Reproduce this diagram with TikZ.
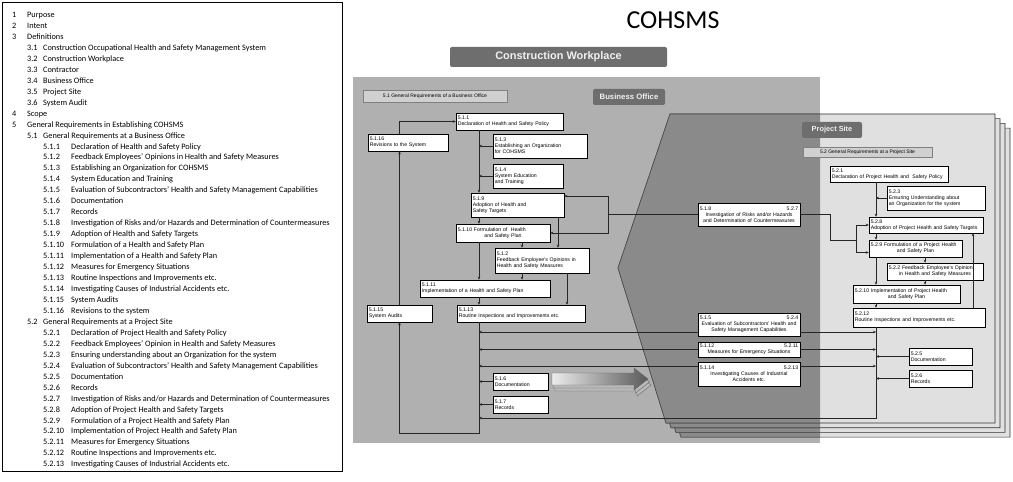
\documentclass[tikz,border=0pt]{standalone}
\usepackage{fontspec}
\setmainfont{Carlito}
\newfontfamily\diagfont{Liberation Sans}
\usetikzlibrary{arrows.meta,calc}
\definecolor{panelgray}{HTML}{B0B0B0}
\definecolor{overlapgray}{HTML}{8A8A8A}
\definecolor{pagegray}{HTML}{E0E0E0}
\definecolor{tabgray}{HTML}{6E6E6E}
\definecolor{labelgray}{HTML}{D0D0D0}
% table of contents lines, three levels
\newcommand{\tocA}[2]{\makebox[15bp][l]{#1}#2}
\newcommand{\tocB}[2]{\hspace*{15bp}\makebox[16bp][l]{#1}#2}
\newcommand{\tocC}[2]{\hspace*{31bp}\makebox[28bp][l]{#1}#2}

\begin{document}
\begin{tikzpicture}[x=1bp, y=-1bp,
   box/.style={draw=black, fill=white, line width=0.5bp, inner xsep=1.8bp,
               inner ysep=0.6bp, align=left,
               font=\diagfont\fontsize{5.2}{5.9}\selectfont},
   twin/.style={box, align=center},
   tab/.style={fill=tabgray, rounded corners=2bp, inner sep=0pt,
               text=white!88!gray, font=\diagfont\bfseries},
   flat/.style={fill=labelgray, draw=gray, line width=0.4bp, inner sep=0pt,
                font=\diagfont\fontsize{5}{5.6}\selectfont},
   conn/.style={line width=0.8bp, draw=black!85},
   >={Stealth[length=3bp,width=2.6bp]}]
  \fill[white] (0,0) rectangle (1013,482);

  % contents list
  \draw[line width=0.8bp] (2.5,2.5) rectangle (342,471.5);
  \node[anchor=north west, inner sep=0pt, align=left,
        font=\fontsize{8.3}{11}\selectfont] (toc) at (12,12) {%
    \tocA{1}{Purpose}\\
    \tocA{2}{Intent}\\
    \tocA{3}{Definitions}\\
    \tocB{3.1}{Construction Occupational Health and Safety Management System}\\
    \tocB{3.2}{Construction Workplace}\\
    \tocB{3.3}{Contractor}\\
    \tocB{3.4}{Business Office}\\
    \tocB{3.5}{Project Site}\\
    \tocB{3.6}{System Audit}\\
    \tocA{4}{Scope}\\
    \tocA{5}{General Requirements in Establishing COHSMS}\\
    \tocB{5.1}{General Requirements at a Business Office}\\
    \tocC{5.1.1}{Declaration of Health and Safety Policy}\\
    \tocC{5.1.2}{Feedback Employees' Opinions in Health and Safety Measures}\\
    \tocC{5.1.3}{Establishing an Organization for COHSMS}\\
    \tocC{5.1.4}{System Education and Training}\\
    \tocC{5.1.5}{Evaluation of Subcontractors' Health and Safety Management Capabilities}\\
    \tocC{5.1.6}{Documentation}\\
    \tocC{5.1.7}{Records}\\
    \tocC{5.1.8}{Investigation of Risks and/or Hazards and Determination of Countermeasures}\\
    \tocC{5.1.9}{Adoption of Health and Safety Targets}\\
    \tocC{5.1.10}{Formulation of a Health and Safety Plan}\\
    \tocC{5.1.11}{Implementation of a Health and Safety Plan}\\
    \tocC{5.1.12}{Measures for Emergency Situations}\\
    \tocC{5.1.13}{Routine Inspections and Improvements etc.}\\
    \tocC{5.1.14}{Investigating Causes of Industrial Accidents etc.}\\
    \tocC{5.1.15}{System Audits}\\
    \tocC{5.1.16}{Revisions to the system}\\
    \tocB{5.2}{General Requirements at a Project Site}\\
    \tocC{5.2.1}{Declaration of Project Health and Safety Policy}\\
    \tocC{5.2.2}{Feedback Employees' Opinion in Health and Safety Measures}\\
    \tocC{5.2.3}{Ensuring understanding about an Organization for the system}\\
    \tocC{5.2.4}{Evaluation of Subcontractors' Health and Safety Management Capabilities}\\
    \tocC{5.2.5}{Documentation}\\
    \tocC{5.2.6}{Records}\\
    \tocC{5.2.7}{Investigation of Risks and/or Hazards and Determination of Countermeasures}\\
    \tocC{5.2.8}{Adoption of Project Health and Safety Targets}\\
    \tocC{5.2.9}{Formulation of a Project Health and Safety Plan}\\
    \tocC{5.2.10}{Implementation of Project Health and Safety Plan}\\
    \tocC{5.2.11}{Measures for Emergency Situations}\\
    \tocC{5.2.12}{Routine Inspections and Improvements etc.}\\
    \tocC{5.2.13}{Investigating Causes of Industrial Accidents etc.}};

  \node[font=\fontsize{26}{26}\selectfont, inner sep=0pt] (title) at (673,20) {COHSMS};

  % business office panel and the stack of project site pages
  \fill[panelgray] (353,77) rectangle (820,443);
  \foreach \k in {3,2,1,0}{
    \begin{scope}[shift={(5*\k,4.7*\k)}]
      \filldraw[fill=pagegray, draw=black!80, line width=0.6bp]
        (670,114) -- (995,114) -- (995,423) -- (666,423) -- (618,268) -- cycle;
      \begin{scope}
        \clip (353-5*\k,77-4.7*\k) rectangle (820-5*\k,443-4.7*\k);
        \filldraw[fill=overlapgray, draw=black!70, line width=0.6bp]
          (670,114) -- (995,114) -- (995,423) -- (666,423) -- (618,268) -- cycle;
      \end{scope}
    \end{scope}
  }

  % grey arrow towards the project site
  \foreach \k in {2,1}{
    \filldraw[fill=gray!55, draw=black!60, line width=0.4bp, shift={(1.5*\k,3*\k)}]
      (552,373) -- (634,373) -- (634,368) -- (648,379) -- (634,390) -- (634,385) -- (552,385) -- cycle;
  }
  \shade[left color=white!85!gray, right color=black!65, draw=black!60, line width=0.4bp]
    (552,373) -- (634,373) -- (634,368) -- (648,379) -- (634,390) -- (634,385) -- (552,385) -- cycle;

  % headings
  \node[tab, minimum width=217bp, minimum height=20bp, font=\diagfont\bfseries\fontsize{11}{11}\selectfont] (cwtab) at (558.5,57) {Construction Workplace};
  \node[tab, minimum width=72bp, minimum height=16bp, font=\diagfont\bfseries\fontsize{7.8}{8}\selectfont] (botab) at (629,97) {Business Office};
  \node[flat, minimum width=144bp, minimum height=12bp] (bolabel) at (435,96) {5.1 General Requirements of a Business Office};
  \node[tab, minimum width=60bp, minimum height=16bp, font=\diagfont\bfseries\fontsize{7.4}{8}\selectfont] (pstab) at (832,130) {Project Site};
  \node[flat, minimum width=129bp, minimum height=10bp] (pslabel) at (867.5,152) {5.2 General Requirements at a Project Site};

  % business office
  \node[box, text width=103.4bp, minimum height=17bp] (b511) at (509.5,121.5) {5.1.1\\Declaration of Health and Safety Policy};
  \node[box, text width=76.4bp, minimum height=17bp] (b5116) at (408,142.5) {5.1.16\\Revisions to the System};
  \node[box, text width=90.4bp, minimum height=24bp] (b513) at (540,146) {5.1.3\\Establishing an Organization\\for COHSMS};
  \node[box, text width=66.4bp, minimum height=24bp] (b514) at (528,176) {5.1.4\\System Education\\and Training};
  \node[box, text width=89.4bp, minimum height=24bp] (b519) at (517.5,205) {5.1.9\\Adoption of Health and\\Safety Targets};
  \node[twin, text width=90.4bp, minimum height=18bp] (b5110) at (503,233) {\makebox[\linewidth][l]{5.1.10 Formulation of\ \ Health}\\and Safety Plan};
  \node[box, text width=90.4bp, minimum height=25bp] (b512) at (542,260.5) {5.1.2\\Feedback Employee's Opinions in\\Health and Safety Measures};
  \node[box, text width=126.4bp, minimum height=17bp] (b5111) at (485,288.5) {5.1.11\\Implementation of a Health and Safety Plan};
  \node[box, text width=61.4bp, minimum height=17bp] (b5115) at (399.5,313.5) {5.1.15\\System Audits};
  \node[box, text width=124.4bp, minimum height=17bp] (b5113) at (521,313.5) {5.1.13\\Routine Inspections and Improvements etc.};
  \node[box, text width=51.4bp, minimum height=17bp] (b516) at (520.5,381.5) {5.1.6\\Documentation};
  \node[box, text width=51.4bp, minimum height=17bp] (b517) at (520.5,404.5) {5.1.7\\Records};

  % shared items
  \node[twin, text width=98.4bp, minimum height=23bp] (m518) at (749,214.5) {\makebox[\linewidth]{5.1.8\hfill 5.2.7}\\Investigation of Risks and/or Hazards\\and Determination of Countermeasures};
  \node[twin, text width=98.4bp, minimum height=23bp] (m515) at (749,324.5) {\makebox[\linewidth]{5.1.5\hfill 5.2.4}\\Evaluation of Subcontractors' Health and\\Safety Management Capabilities};
  \node[twin, text width=98.4bp, minimum height=15bp] (m5112) at (749,349.5) {\makebox[\linewidth]{5.1.12\hfill 5.2.11}\\Measures for Emergency Situations};
  \node[twin, text width=98.4bp, minimum height=24bp] (m5114) at (749,374) {\makebox[\linewidth]{5.1.14\hfill 5.2.13}\\Investigating Causes of Industrial\\Accidents etc.};

  % project site
  \node[box, text width=114.4bp, minimum height=16bp] (p521) at (889,174) {5.2.1\\Declaration of Project Health and\ \ Safety Policy};
  \node[box, text width=94.4bp, minimum height=24bp] (p523) at (936,198) {5.2.3\\Ensuring Understanding about\\an Organization for the system};
  \node[box, text width=110.4bp, minimum height=16bp] (p528) at (926,225) {5.2.8\\Adoption of Project Health and Safety Targets};
  \node[twin, text width=89.4bp, minimum height=17bp] (p529) at (915.5,248.5) {\makebox[\linewidth][l]{5.2.9 Formulation of a Project Health}\\and Safety Plan};
  \node[twin, text width=92.4bp, minimum height=17bp] (p522) at (935,271.5) {\makebox[\linewidth][l]{5.2.2 Feedback Employee's Opinion}\\in Health and Safety Measures};
  \node[twin, text width=103.4bp, minimum height=18bp] (p5210) at (906.5,294) {\makebox[\linewidth][l]{5.2.10 Implementation of Project Health}\\and Safety Plan};
  \node[box, text width=128.4bp, minimum height=19bp] (p5212) at (919,317.5) {5.2.12\\Routine Inspections and Improvements etc.};
  \node[box, text width=59.4bp, minimum height=17bp] (p525) at (940.5,356.5) {5.2.5\\Documentation};
  \node[box, text width=59.4bp, minimum height=17bp] (p526) at (940.5,378.5) {5.2.6\\Records};

  % spines and bends
  \coordinate (bsp) at (479,0);
  \coordinate (psp) at (876,0);
  \coordinate (bx1) at (522,0);
  \coordinate (bx2) at (558,0);
  \coordinate (bx3) at (567,0);
  \coordinate (bfork) at (608,0);
  \coordinate (bloop) at (479,433);
  \coordinate (pjog) at (830,0);
  \coordinate (pfork) at (856,240);
  \coordinate (px1) at (925,0);
  \coordinate (px2) at (973,0);
  \coordinate (pbot) at (876,418);

  \begin{scope}[conn]
  \draw[->] (b511.south -| bsp) -- (b519.north -| bsp);
  \draw[->] (b513.west) -- (b513.west -| bsp);
  \draw[->] (b514.west) -- (b514.west -| bsp);
  \draw[->] (b519.south -| bsp) -- (b5110.north -| bsp);
  \draw[->] (b5110.south -| bsp) -- (b5111.north -| bsp);
  \draw[->] (b5111.south -| bsp) -- (b5113.north -| bsp);
  \draw[->] (b5110.south -| bx1) -- (b512.north -| bx1);
  \draw[->] (b512.south -| bx1) -- (b5111.north -| bx1);
  \draw[->] (b519.south -| bx2) -- (b512.north -| bx2);
  \draw[->] (b512.south -| bx3) -- (b5113.north -| bx3);
  \draw[->] (b5113.south -| bsp) -- (bloop) -| (b5115.south);
  \draw[->] (b5115.north) -- (b5116.south -| b5115.north);
  \draw[->] (b5116.north -| b5115.north) |- (b511.west);
  \draw[->] (b516.west) -- (b516.west -| bsp);
  \draw[->] (b517.west) -- (b517.west -| bsp);

  \draw (m518.west) -- (m518.west -| bfork);
  \draw[->] (m518.west -| bfork) |- ([yshift=9bp]b519.east);
  \draw[->] (m518.west -| bfork) |- (b5110.east);
  \draw (m518.east) -- (m518.east -| pjog) |- (pfork);
  \draw[->] (pfork) |- (p528.west);
  \draw[->] (pfork) |- ([yshift=-4bp]p529.west);

  \draw[->] ([yshift=-7.5bp]m515.west) -- ([yshift=-7.5bp]m515.west -| bsp);
  \draw[->] ([yshift=-7.5bp]m515.east) -- ([yshift=-7.5bp]m515.east -| psp);
  \draw[->] (m5112.west) -- (m5112.west -| bsp);
  \draw[->] (m5112.east) -- (m5112.east -| psp);
  \draw[->] ([yshift=8bp]m5114.west) -- ([yshift=8bp]m5114.west -| bsp);
  \draw[->] ([yshift=8bp]m5114.east) -- ([yshift=8bp]m5114.east -| psp);

  \draw[->] (p521.south -| psp) -- (p528.north -| psp);
  \draw[->] (p523.west) -- (p523.west -| psp);
  \draw[->] (p528.south -| psp) -- (p529.north -| psp);
  \draw[->] (p529.south -| psp) -- (p5210.north -| psp);
  \draw[->] (p529.south -| px1) -- (p522.north -| px1);
  \draw[->] (p522.south -| px1) -- (p5210.north -| px1);
  \draw[->] (p5210.south -| psp) -- (p5212.north -| psp);
  \draw[->] (p5212.north -| px2) -- (p528.south -| px2);
  \draw[->] (p525.west) -- (p525.west -| psp);
  \draw[->] (p526.west) -- (p526.west -| psp);
  \draw[->] (p5212.south -| psp) -- (pbot) -- (pbot -| bsp);
  \end{scope}
\end{tikzpicture}
\end{document}
